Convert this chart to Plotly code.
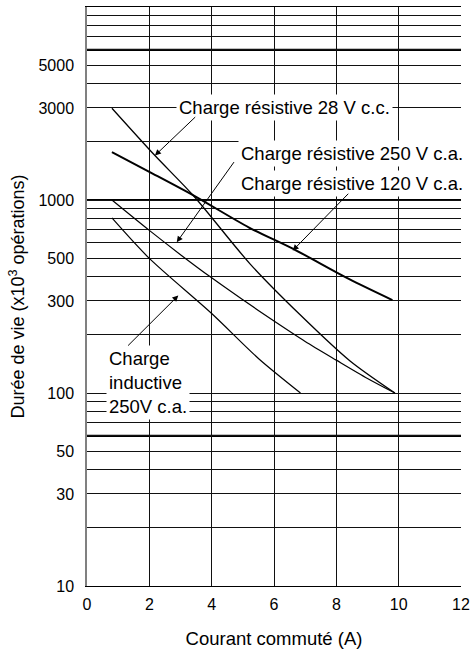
import numpy as np
import plotly.graph_objects as go

# ---- data ----
x_28vcc = [0.8, 2.18, 3.41, 5.23, 6.83, 8.43, 9.88]
y_28vcc = [2990, 1700, 1055, 467, 255, 147, 100]

x_120vca = [0.8, 2.0, 3.4, 5.2, 6.6, 8.4, 9.8]
y_120vca = [1770, 1400, 1060, 720, 560, 390, 303]

x_250vca = [0.8, 2.0, 3.0, 4.0, 5.0, 6.0, 7.0, 8.0, 9.0, 9.88]
y_250vca = [1000, 696, 521, 395, 304, 236, 185, 148, 119, 100]

x_ind = [0.8, 2.0, 4.0, 5.5, 6.85]
y_ind = [807, 498, 258, 151, 100]

x_ticks = [0, 2, 4, 6, 8, 10, 12]
y_labels = [10, 30, 50, 100, 300, 500, 1000, 3000, 5000]
y_grid = [m * 10 ** e for e in (1, 2, 3) for m in range(1, 10)] + [10000]
y_thick = [60, 1000, 6000]

FONT = "Liberation Sans, Arial, Helvetica, sans-serif"

fig = go.Figure()

def add_curve(xs, ys, w):
    fig.add_trace(go.Scatter(x=xs, y=ys, mode="lines",
                             line=dict(color="black", width=w, shape="spline", smoothing=0.8),
                             showlegend=False, hoverinfo="skip"))

add_curve(x_28vcc, y_28vcc, 1.3)
add_curve(x_120vca, y_120vca, 2.0)
add_curve(x_250vca, y_250vca, 1.2)
add_curve(x_ind, y_ind, 1.2)

# thick horizontal rules
for v in y_thick:
    fig.add_shape(type="line", xref="paper", x0=0, x1=1, yref="y", y0=v, y1=v,
                  line=dict(color="black", width=2.2), layer="below")

ticktext = [str(v) if v in y_labels else "" for v in y_grid]

fig.update_layout(
    width=473, height=653,
    margin=dict(l=87, r=12, t=7, b=67),
    paper_bgcolor="white", plot_bgcolor="white",
    font=dict(family=FONT, color="black", size=16),
    xaxis=dict(range=[0, 12], tickvals=x_ticks, showgrid=True, gridcolor="#111", gridwidth=1,
               zeroline=False, showline=True, linecolor="black", linewidth=1, mirror=True,
               ticks="outside", ticklen=4, tickcolor="rgba(0,0,0,0)",
               tickfont=dict(size=16), automargin=False,
               title=dict(text="Courant commuté (A)", font=dict(size=18.5), standoff=19)),
    yaxis=dict(type="log", range=[1, 4], tickvals=y_grid, ticktext=ticktext,
               showgrid=True, gridcolor="#111", gridwidth=1,
               zeroline=False, showline=True, linecolor="#808080", linewidth=1.5,
               ticks="outside", ticklen=8, tickcolor="rgba(0,0,0,0)",
               tickfont=dict(size=16), automargin=False,
               title=dict(text="Durée de vie (x10<sup>3</sup> opérations)", font=dict(size=18), standoff=9)),
)

L = np.log10

# labels (white background)
labels = [
    ("Charge résistive 28 V c.c.", 2.84, 3000, "left"),
    ("Charge résistive 250 V c.a.", 4.84, 1740, "left"),
    ("Charge résistive 120 V c.a.", 4.84, 1220, "left"),
    ("Charge<br>inductive<br>250V c.a.", 0.6, 114, "left"),
]
for txt, xx, yy, anc in labels:
    fig.add_annotation(text=txt, x=xx, y=L(yy), xref="x", yref="y", xanchor=anc, yanchor="middle",
                       showarrow=False, align="left", bgcolor="white", borderpad=2,
                       font=dict(size=18.5, family=FONT, color="black"))

# arrows: (tail x, tail y, tip x, tip y)
arrows = [
    (3.52, 2735, 2.18, 1700),
    (4.75, 1600, 2.88, 604),
    (8.43, 1097, 6.6, 547),
    (1.27, 173, 2.93, 320),
]
for ax_, ay_, tx, ty in arrows:
    fig.add_annotation(text="", x=tx, y=L(ty), ax=ax_, ay=L(ay_), xref="x", yref="y",
                       axref="x", ayref="y", showarrow=True, arrowhead=2, arrowsize=1.2,
                       arrowwidth=1, arrowcolor="black", standoff=0, startstandoff=0)

fig.write_html("out.html", config={"displayModeBar": False},
               post_script="document.body.style.margin='0';document.body.style.padding='0';")
